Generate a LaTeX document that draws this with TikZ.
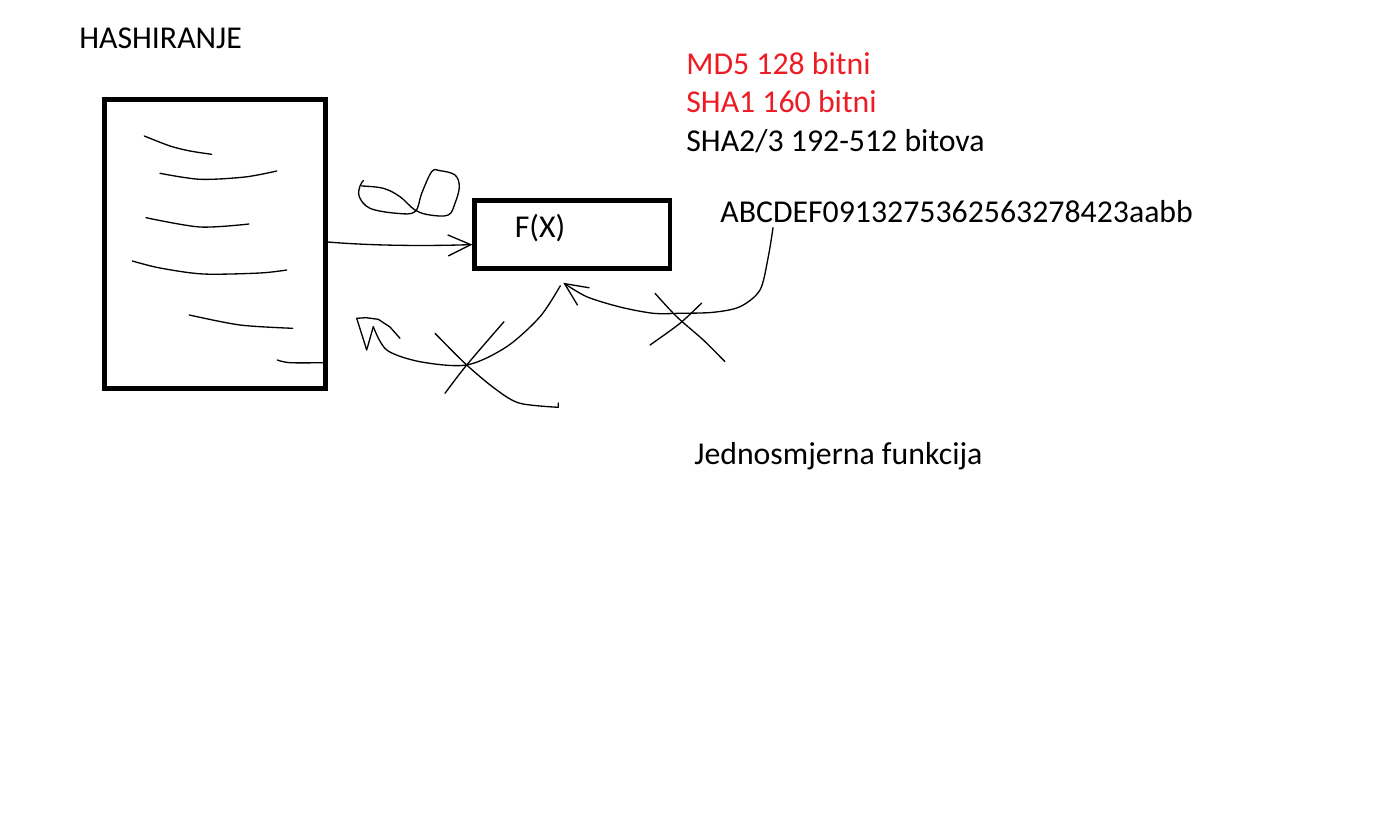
\documentclass[tikz,border=0pt]{standalone}
\usepackage{fontspec}
\setmainfont{Carlito}
\usetikzlibrary{positioning, arrows.meta, calc}
\definecolor{paintred}{RGB}{237,28,36}
\tikzset{
    docbox/.style={rectangle, draw=black, line width=2.8pt, minimum width=4.42cm, minimum height=5.78cm, inner sep=0pt},
    funcbox/.style={rectangle, draw=black, line width=2.5pt, minimum width=3.91cm, minimum height=1.36cm, inner sep=0pt},
    lbl/.style={anchor=base west, inner sep=0pt, font=\fontsize{18.1}{22}\selectfont},
    redlbl/.style={lbl, text=paintred},
    pen/.style={line width=0.75pt, line cap=round, line join=round},
    penarr/.style={pen, -{Straight Barb[length=13pt, width=12pt]}}
}

\begin{document}
\begin{tikzpicture}[x=0.02cm, y=-0.02cm]
    \useasboundingbox (0,0) rectangle (1387,818);
    % texts
    \node[lbl] (title) at (79,48.3) {HASHIRANJE};
    \node[redlbl] (md5) at (686,74.3) {MD5 128 bitni};
    \node[redlbl] (sha1) at (686,112.7) {SHA1 160 bitni};
    \node[lbl] (sha2) at (686,151) {SHA2/3 192-512 bitova};
    \node[lbl] (hash) at (720,222.7) {ABCDEF0913275362563278423aabb};
    \node[lbl] (oneway) at (694,464.3) {Jednosmjerna funkcija};
    % boxes
    \node[docbox] (doc) at (215,244) {};
    \node[funcbox] (fx) at (572.3,234.6) {};
    \node[lbl] (fxlbl) at (514.5,237) {F(X)};
    % scribbled lines of the document
    \draw[pen] plot[smooth] coordinates {(144.3,136) (170,146) (190,151) (211.7,154.3)};
    \draw[pen] plot[smooth] coordinates {(160,173.3) (200,179.3) (245,177) (276.7,171)};
    \draw[pen] plot[smooth] coordinates {(146,217.7) (200,227) (249,224)};
    \draw[pen] plot[smooth] coordinates {(132.3,261) (160,268) (203.3,274) (260,273) (286.7,270)};
    \draw[pen] plot[smooth] coordinates {(189.3,315) (240,325) (292.7,328.3)};
    \draw[pen] plot[smooth] coordinates {(277.3,360) (290,362.7) (325,362.7)};
    % input arrow
    \draw[penarr] ($(doc.east)+(0,-2)$) .. controls (375,246) and (430,246) .. ($(fx.west)+(0,10)$);
    % loop above the arrow
    \draw[pen] plot[smooth, tension=0.6] coordinates {(363.3,180.7) (360,186) (359.3,196.7) (370,208.3) (396.7,213.3) (415,211.7) (421.7,193.3) (431.7,171.7) (440,170.7) (455,175) (459.3,186.7) (455,203.3) (448.3,215) (430,215) (415,210) (400,196.7) (383.3,188.3) (361.7,186)};
    % way back, crossed out
    \coordinate (fxout) at ($(fx.south)+(-12,15)$);
    \coordinate (back) at (373.3,326.7);
    \draw[pen] plot[smooth] coordinates {(fxout) (540,316.7) (506.7,346.7) (466.7,365) (420,361.7) (386.7,350) (back)};
    \draw[pen] (back) -- (366.7,350) -- (356.7,318.3) -- (366,317.7) -- (378.3,319.3) -- (390,327) -- (400,338.3);
    \draw[pen] plot[smooth] coordinates {(435,333.3) (466.7,365) (496.7,390) (520,403.3) (558.3,407.3)} -- (558.3,403);
    \draw[pen] plot[smooth] coordinates {(504,321.7) (466.7,365) (445,393.3)};
    % from the hash back to F(X), crossed out
    \coordinate (hashout) at ($(hash.base west)+(53,5)$);
    \coordinate (fxin) at ($(fx.south)+(-9,12)$);
    \draw[penarr] plot[smooth] coordinates {(hashout) (768.3,256.7) (760,290) (740,306.7) (713.3,312.3) (680,313.3) (653.3,313.3) (620,307) (586.7,296.7) (fxin)};
    \draw[pen] plot[smooth] coordinates {(655,293.3) (676.7,316.7) (703.3,340) (725,361.7)};
    \draw[pen] plot[smooth] coordinates {(701.7,303) (680,323.3) (650,345)};
\end{tikzpicture}
\end{document}
